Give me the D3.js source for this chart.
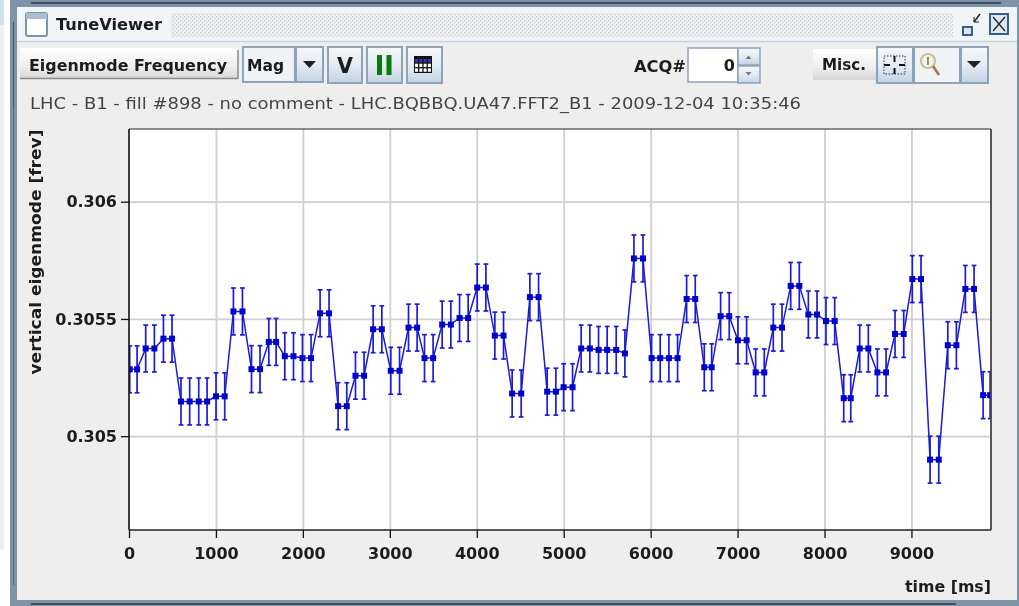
<!DOCTYPE html>
<html><head><meta charset="utf-8">
<script src="https://cdn.jsdelivr.net/npm/d3@7"></script>
<style>
html,body{margin:0;padding:0;background:#fff;overflow:hidden}
svg{display:block;filter:blur(0.4px)}
text{font-family:"DejaVu Sans",sans-serif;fill:#1c1c1c}
</style></head><body>
<svg id="c" width="1019" height="606"></svg>
<script>
const times=[8,93,192,292,396,495,598,698,802,898,1001,1101,1201,1305,1409,1507,1608,1692,1792,1892,1995,2094,2198,2301,2405,2505,2605,2704,2808,2908,3011,3112,3215,3314,3399,3498,3602,3702,3802,3901,4005,4105,4208,4308,4407,4511,4611,4711,4810,4910,4999,5102,5201,5301,5401,5500,5604,5704,5808,5912,6011,6110,6210,6310,6414,6513,6617,6702,6805,6904,7004,7104,7208,7307,7411,7511,7611,7710,7814,7914,8017,8117,8221,8302,8405,8504,8608,8708,8811,8911,9010,9110,9214,9314,9418,9517,9620,9720,9824,9905];
const tune=[.305285,.305285,.305374,.305374,.305416,.305416,.305148,.305148,.305148,.305148,.305170,.305170,.305532,.305532,.305286,.305286,.305402,.305402,.305341,.305341,.305333,.305333,.305524,.305524,.305128,.305128,.305258,.305258,.305456,.305456,.305279,.305279,.305463,.305463,.305333,.305333,.305476,.305476,.305504,.305504,.305634,.305634,.305429,.305429,.305182,.305182,.305593,.305593,.305190,.305190,.305209,.305209,.305374,.305374,.305368,.305368,.305368,.305353,.305758,.305758,.305333,.305333,.305333,.305333,.305585,.305585,.305294,.305294,.305512,.305512,.305409,.305409,.305272,.305272,.305463,.305463,.305641,.305641,.305519,.305519,.305491,.305491,.305162,.305162,.305374,.305374,.305272,.305272,.305436,.305436,.305670,.305670,.304900,.304900,.305388,.305388,.305628,.305628,.305175,.305175];
const errorBar=0.0001;
const xTicks=[0,1000,2000,3000,4000,5000,6000,7000,8000,9000];
const yTicks=[0.305,0.3055,0.306];
const yTickLabels=["0.305","0.3055","0.306"];
const title="TuneViewer";
const subtitle="LHC - B1 - fill #898 - no comment - LHC.BQBBQ.UA47.FFT2_B1 - 2009-12-04 10:35:46";
const yLabel="vertical eigenmode [frev]";
const xLabel="time [ms]";

const svg=d3.select("#c");
const defs=svg.append("defs");
function grad(id,stops){const g=defs.append("linearGradient").attr("id",id).attr("x1",0).attr("x2",0).attr("y1",0).attr("y2",1);
 stops.forEach(([o,c])=>g.append("stop").attr("offset",o).attr("stop-color",c));}
grad("btn",[[0,"#f6f8fb"],[0.5,"#e4ebf3"],[1,"#c2d3e4"]]);
grad("plain",[[0,"#ffffff"],[0.6,"#eeeeee"],[1,"#d6d6d6"]]);
const pat=defs.append("pattern").attr("id","dots").attr("width",4).attr("height",4).attr("patternUnits","userSpaceOnUse");
pat.append("rect").attr("width",4).attr("height",4).attr("fill","#f0f2f5");
pat.append("rect").attr("width",1.4).attr("height",1.4).attr("fill","#c8ccd0");
pat.append("rect").attr("x",2).attr("y",2).attr("width",1.4).attr("height",1.4).attr("fill","#c8ccd0");
defs.append("clipPath").attr("id","plotclip").append("rect").attr("x",129).attr("y",129).attr("width",862).attr("height",401);

const R=(x,y,w,h,f,s)=>svg.append("rect").attr("x",x).attr("y",y).attr("width",w).attr("height",h).attr("fill",f).attr("stroke",s||"none");
const T=(x,y,t,size,weight,anchor,len)=>{const e=svg.append("text").attr("x",x).attr("y",y).attr("font-size",size).attr("font-weight",weight||"normal").attr("text-anchor",anchor||"start").text(t);
 if(len)e.attr("textLength",len).attr("lengthAdjust","spacingAndGlyphs");return e;};
const L=(x1,y1,x2,y2,c,w)=>svg.append("line").attr("x1",x1).attr("y1",y1).attr("x2",x2).attr("y2",y2).attr("stroke",c).attr("stroke-width",w||1);

// desktop and window frame
R(0,0,1019,606,"#ffffff");
R(0,0,4,25,"#cfe0f0");
R(0,25,4,525,"#f0f0f0");
R(10,0,1009,606,"#7f93a8");
R(31,2,970,2,"#3f4f60");
L(13.5,22,13.5,106,"#3f4f60",1);
L(13.5,106,13.5,585,"#55677a",1);
R(31,603,925,2,"#3f4f60");
R(17,7,1000,593,"#eeeeee");
// title bar
R(17,7,1000,34,"#f2f5f8");
L(17,41.5,1017,41.5,"#c4d3e2",1.5);
R(171,13,782,24,"url(#dots)");
R(26,13,21,23,"#ffffff","#7f93a8").attr("rx",2).attr("stroke-width",2);
R(26,13,21,6,"#a9bed3");
T(56,30,title,16,"bold","start",106);
// iconify / close
R(963,27,9,8,"#d9e5f0","#3a5f86").attr("stroke-width",2);
L(974,22,980,14,"#222",1.5);L(974,22,974,17,"#222",1);L(974,22,979,22,"#222",1);
R(990,14,18,20,"#dce7f2","#3a5f86").attr("stroke-width",2);
L(993,17,1005,31,"#222",1.3);L(1005,17,993,31,"#222",1.3);
// toolbar
R(20,48,218,31,"url(#plain)");L(20,78.5,238,78.5,"#8a8a8a",1.5);L(238,50,238,79,"#8a8a8a",1.5);
T(29,71,"Eigenmode Frequency",16,"bold","start",198);
R(243,47,52,35,"#f0f3f6","#8ca3ba").attr("stroke-width",2);
T(247,71,"Mag",16,"bold","start",37);
R(296,47,27,35,"url(#btn)","#8ca3ba").attr("stroke-width",2);
svg.append("path").attr("d","M303 61h13l-6.5 7z").attr("fill","#222");
R(328,47,34,36,"url(#btn)","#8ca3ba").attr("stroke-width",2);
T(345,73,"V",22,"bold","middle",16);
R(367,47,35,36,"url(#btn)","#8ca3ba").attr("stroke-width",2);
R(377,55,5,20,"#0a7a10");R(386.5,55,5,20,"#0a7a10");
R(407,47,35,36,"url(#btn)","#8ca3ba").attr("stroke-width",2);
R(414,56,18,17,"#111");
[0,1,2].forEach(i=>[0,1,2,3].forEach(j=>R(415+j*4.3,59+i*4.7,3,3.4,i==0?"#3030c0":"#fff")));
T(634,72,"ACQ#",16,"bold","start",52);
R(688,48,50,34,"#ffffff","#8ca3ba").attr("stroke-width",1.5);
T(735,71,"0",16,"bold","end");
R(738,48,22,17,"url(#btn)","#8ca3ba").attr("stroke-width",1.5);
R(738,66,22,17,"url(#btn)","#8ca3ba").attr("stroke-width",1.5);
svg.append("path").attr("d","M745.5 59h6l-3-3.5z").attr("fill","#777");
svg.append("path").attr("d","M745.5 72h6l-3 3.5z").attr("fill","#777");
R(813,49,63,31,"url(#plain)");
T(822,70,"Misc.",16,"bold","start",44);
R(877,47,36,36,"url(#btn)","#8ca3ba").attr("stroke-width",2);
R(884,56,21,18,"none","#333").attr("stroke-dasharray","1.5 1.5");
svg.append("path").attr("d","M894.5 56v6M894.5 68v6M884 65h6M899 65h6").attr("stroke","#111").attr("stroke-width",2);
R(914,47,46,36,"#f0f3f6","#8ca3ba").attr("stroke-width",2);
svg.append("circle").attr("cx",928).attr("cy",61).attr("r",7).attr("fill","#f6f6e8").attr("stroke","#c5c09a").attr("stroke-width",2);
L(933,66,939,75,"#a8754a",2.5);
T(928,65,"I",10,"normal","middle");
R(961,47,27,36,"url(#btn)","#8ca3ba").attr("stroke-width",2);
svg.append("path").attr("d","M967 61h14l-7 7z").attr("fill","#222");
T(30,109,subtitle,16,"normal","start",771).style("fill","#444");

// chart
const margin={left:129,right:991,top:129,bottom:530};
const x=d3.scaleLinear().domain([0,9915]).range([margin.left,margin.right]);
const y=d3.scaleLinear().domain([0.3046,0.30631]).range([margin.bottom,margin.top]);
R(129,129,862,401,"#ffffff");
const xGrid=svg.append("g").attr("transform",`translate(0,${margin.bottom})`)
 .call(d3.axisBottom(x).tickValues(xTicks.slice(1)).tickSize(-(margin.bottom-margin.top)).tickFormat(""));
xGrid.select(".domain").remove();xGrid.selectAll("line").attr("stroke","#cfcfcf").attr("stroke-width",1.8);
const yGrid=svg.append("g").attr("transform",`translate(${margin.left},0)`)
 .call(d3.axisLeft(y).tickValues(yTicks).tickSize(-(margin.right-margin.left)).tickFormat(""));
yGrid.select(".domain").remove();yGrid.selectAll("line").attr("stroke","#cfcfcf").attr("stroke-width",1.8);

const plot=svg.append("g").attr("clip-path","url(#plotclip)");
const line=d3.line().x((d,i)=>x(times[i])).y(d=>y(d));
plot.append("path").datum(tune).attr("d",line).attr("fill","none").attr("stroke","#1c1cd4").attr("stroke-width",1.5);
const bars=plot.append("g").attr("stroke","#1c1cd4").attr("stroke-width",1.7);
tune.forEach((v,i)=>{
 const px=x(times[i]),hi=y(v+errorBar),lo=y(v-errorBar);
 bars.append("line").attr("x1",px).attr("x2",px).attr("y1",hi).attr("y2",lo);
 bars.append("line").attr("x1",px-2.4).attr("x2",px+2.4).attr("y1",hi).attr("y2",hi);
 bars.append("line").attr("x1",px-2.4).attr("x2",px+2.4).attr("y1",lo).attr("y2",lo);
});
plot.append("g").selectAll("rect").data(tune).join("rect")
 .attr("x",(d,i)=>x(times[i])-3).attr("y",d=>y(d)-3).attr("width",6).attr("height",6).attr("fill","#0000cc");

// frame and axes
const ax=svg.append("g").attr("transform",`translate(0,${margin.bottom})`)
 .call(d3.axisBottom(x).tickValues(xTicks).tickSize(8).tickPadding(10).tickFormat(d3.format("d")));
ax.select(".domain").remove();
const ay=svg.append("g").attr("transform",`translate(${margin.left},0)`)
 .call(d3.axisLeft(y).tickValues(yTicks).tickSize(8).tickPadding(4).tickFormat((d,i)=>yTickLabels[i]));
ay.select(".domain").remove();
svg.selectAll("g.tick text").attr("font-family","'DejaVu Sans',sans-serif").attr("font-size",16).attr("font-weight","bold").style("fill","#1c1c1c");
svg.selectAll("g.tick line").filter(function(){return +d3.select(this).attr("y2")==8||+d3.select(this).attr("x2")==-8;}).attr("stroke","#111").attr("stroke-width",1.3);
L(129,129,129,530,"#111",1.6);
L(129,530,991,530,"#222",1.6);
L(129,129,991,129,"#222",1);
L(991,129,991,530,"#444",1.8);
T(0,0,yLabel,15,"bold","middle",245).attr("transform","translate(41,252) rotate(-90)");
T(991,592,xLabel,16,"bold","end",86);
</script></body></html>
